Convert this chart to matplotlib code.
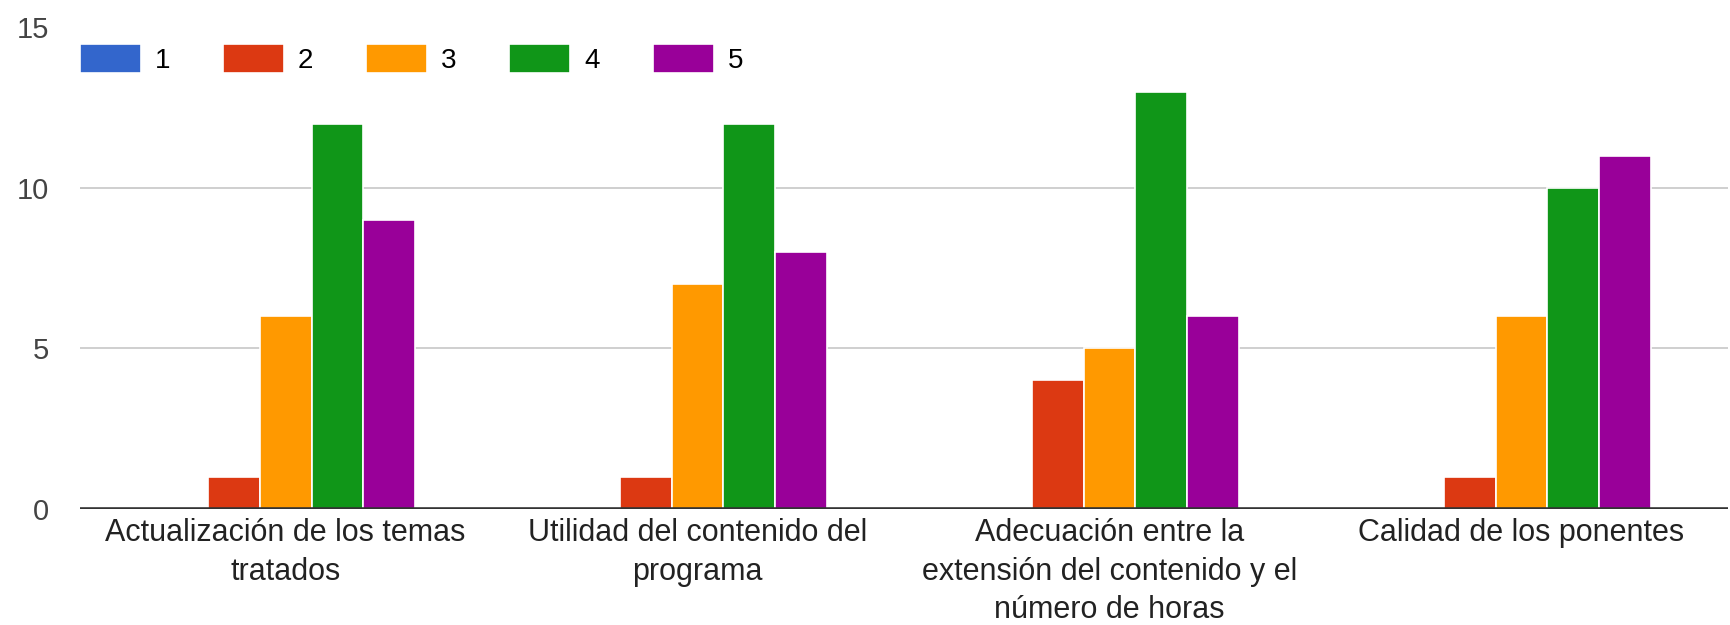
import matplotlib.pyplot as plt
import numpy as np

plt.rcParams['font.family'] = ['Liberation Sans', 'DejaVu Sans']

# categories (x axis)
categories = ["Actualización de los temas\ntratados",
              "Utilidad del contenido del\nprograma",
              "Adecuación entre la\nextensión del contenido y el\nnúmero de horas",
              "Calidad de los ponentes"]
# series: rating 1..5
labels = ["1", "2", "3", "4", "5"]
rating1 = [0, 0, 0, 0]
rating2 = [1, 1, 4, 1]
rating3 = [6, 7, 5, 6]
rating4 = [12, 12, 13, 10]
rating5 = [9, 8, 6, 11]
colors = ["#3366cc", "#dc3912", "#ff9900", "#109618", "#990099"]

series = [rating1, rating2, rating3, rating4, rating5]

fig = plt.figure(figsize=(17.31, 6.25), dpi=100)
ax = fig.add_axes([0.046, 0.186, 0.952, 0.77])

x = np.arange(len(categories))
w = 0.1257
for i, vals in enumerate(series):
    ax.bar(x + (i - 2) * w, vals, width=w, color=colors[i], label=labels[i],
           edgecolor="white", linewidth=1.2, zorder=2)

ax.axhline(0, color="#333333", linewidth=2.6, zorder=3)
ax.set_xlim(-0.5, 3.5)
ax.set_ylim(0, 15)
ax.set_yticks([0, 5, 10, 15])
ax.yaxis.grid(True, color="#cccccc", linewidth=1.3, zorder=0)
ax.set_axisbelow(True)
for s in ax.spines.values():
    s.set_visible(False)

ax.set_xticks(x)
ax.set_xticklabels(categories, fontsize=22, color="#222222", linespacing=1.36)
ax.tick_params(axis="x", length=0, pad=7)
ax.tick_params(axis="y", length=0, pad=22, labelsize=21, labelcolor="#444444")

ax.legend(loc="upper left", bbox_to_anchor=(0.046, 0.93), bbox_transform=fig.transFigure,
          ncol=5, frameon=False, fontsize=20, handlelength=2.2, handleheight=1.25,
          handletextpad=0.5, columnspacing=1.9, borderaxespad=0, borderpad=0)

fig.savefig("out.png", dpi=100)
